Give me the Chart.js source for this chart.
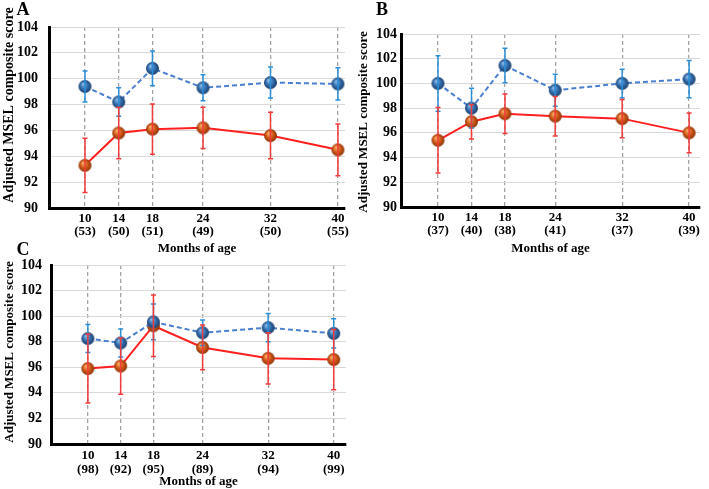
<!DOCTYPE html>
<html>
<head>
<meta charset="utf-8">
<script src="https://cdn.jsdelivr.net/npm/chart.js@4/dist/chart.umd.min.js"></script>
<style>
  html, body { margin: 0; padding: 0; background: #fff; }
  #wrap { position: relative; width: 709px; height: 489px; overflow: hidden; }
  canvas { position: absolute; }
</style>
</head>
<body>
<div id="wrap">
  <canvas id="chartA" width="355" height="256" style="left:0;top:0;width:355px;height:256px"></canvas>
  <canvas id="chartB" width="354" height="256" style="left:355px;top:0;width:354px;height:256px"></canvas>
  <canvas id="chartC" width="355" height="249" style="left:0;top:240px;width:355px;height:249px"></canvas>
</div>
<script>
// months of age on the x axis, with group sizes per panel
const months = [10, 14, 18, 24, 32, 40];
const nA = [53, 50, 51, 49, 50, 55];
const nB = [37, 40, 38, 41, 37, 39];
const nC = [98, 92, 95, 89, 94, 99];
const yTicks = [90, 92, 94, 96, 98, 100, 102, 104];

// blue (dashed) series and its error half-widths
const blueA = [99.4, 98.2, 100.8, 99.3, 99.7, 99.6];
const blueErrA = [1.2, 1.1, 1.35, 1.0, 1.2, 1.25];
const blueB = [100.0, 98.0, 101.45, 99.45, 100.0, 100.35];
const blueErrB = [2.25, 1.6, 1.4, 1.3, 1.15, 1.5];
const blueC = [98.25, 97.9, 99.55, 98.7, 99.1, 98.65];
const blueErrC = [1.1, 1.1, 1.4, 1.0, 1.1, 1.15];

// red (solid) series and its error half-widths
const redA = [93.3, 95.8, 96.1, 96.2, 95.6, 94.5];
const redErrA = [2.1, 2.0, 1.95, 1.6, 1.8, 2.0];
const redB = [95.4, 96.9, 97.55, 97.35, 97.15, 96.0];
const redErrB = [2.65, 1.4, 1.6, 1.6, 1.55, 1.6];
const redC = [95.9, 96.1, 99.25, 97.55, 96.7, 96.6];
const redErrC = [2.7, 2.2, 2.4, 1.75, 2.0, 2.35];

const serif = "'Liberation Serif', 'Times New Roman', serif";

// little shaded ball used as the point style
const makeBall = (light, mid, dark) => {
  const r = 6.5;
  const c = document.createElement("canvas");
  c.width = 15;
  c.height = 15;
  const g = c.getContext("2d");
  const grad = g.createRadialGradient(5.5, 5, 0.5, 7.5, 7.5, r);
  grad.addColorStop(0, light);
  grad.addColorStop(0.5, mid);
  grad.addColorStop(1, dark);
  g.fillStyle = grad;
  g.beginPath();
  g.arc(7.5, 7.5, r, 0, Math.PI * 2);
  g.fill();
  return c;
};
const blueBall = makeBall("#8bb8e6", "#3470b0", "#1c3f6c");
const orangeBall = makeBall("#f6ad6a", "#d45c1a", "#8c3206");

const errorBars = {
  id: "errorBars",
  afterDatasetsDraw(chart) {
    const ctx = chart.ctx;
    const xs = chart.scales.x;
    const ys = chart.scales.y;
    chart.data.datasets.forEach((ds) => {
      ctx.save();
      ctx.strokeStyle = ds.errColor;
      ctx.lineWidth = 1.5;
      ds.data.forEach((p, i) => {
        const x = xs.getPixelForValue(p.x);
        const top = ys.getPixelForValue(p.y + ds.err[i]);
        const bot = ys.getPixelForValue(p.y - ds.err[i]);
        ctx.beginPath();
        ctx.moveTo(x, top);
        ctx.lineTo(x, bot);
        ctx.moveTo(x - 2.5, top);
        ctx.lineTo(x + 2.5, top);
        ctx.moveTo(x - 2.5, bot);
        ctx.lineTo(x + 2.5, bot);
        ctx.stroke();
      });
      ctx.restore();
    });
  },
};

// panel letter and rotated y title
const panelText = {
  id: "panelText",
  afterDraw(chart, args, opts) {
    const ctx = chart.ctx;
    ctx.save();
    ctx.fillStyle = "#000";
    ctx.textAlign = "center";
    ctx.textBaseline = "middle";
    ctx.font = "bold 18px " + serif;
    ctx.fillText(opts.letter, opts.letterX, opts.letterY);
    ctx.translate(opts.titleX, opts.titleY);
    ctx.rotate(-Math.PI / 2);
    ctx.font = "bold " + opts.titleSize + "px " + serif;
    ctx.fillText("Adjusted MSEL composite score", 0, 0);
    ctx.restore();
  },
};

const makeChart = (id, n, blue, blueErr, red, redErr, cfg) => {
  const toPoints = (vals) => vals.map((v, i) => ({ x: months[i], y: v }));
  return new Chart(document.getElementById(id), {
    type: "line",
    data: {
      datasets: [
        {
          data: toPoints(blue),
          err: blueErr,
          errColor: "#2b8fd8",
          borderColor: "#4a7fd0",
          borderWidth: 2,
          borderDash: [5, 3],
          pointStyle: blueBall,
          pointRadius: 7,
          fill: false,
        },
        {
          data: toPoints(red),
          err: redErr,
          errColor: "#f23a3a",
          borderColor: "#ff1f1f",
          borderWidth: 2,
          pointStyle: orangeBall,
          pointRadius: 7,
          fill: false,
        },
      ],
    },
    options: {
      responsive: false,
      animation: false,
      layout: {
        padding: { top: cfg.padTop, right: cfg.padRight, left: 0, bottom: 0 },
      },
      plugins: {
        legend: { display: false },
        tooltip: { enabled: false },
        panelText: cfg.text,
      },
      scales: {
        x: {
          type: "linear",
          min: cfg.xMin,
          max: cfg.xMax,
          afterBuildTicks: (scale) => {
            scale.ticks = months.map((v) => ({ value: v }));
          },
          afterFit: (scale) => {
            scale.height = cfg.xHeight;
          },
          ticks: {
            autoSkip: false,
            maxRotation: 0,
            padding: cfg.xPad,
            color: "#000",
            font: { family: serif, size: 13, weight: "bold", lineHeight: cfg.xLine },
            callback: (v) => [String(v), "(" + n[months.indexOf(v)] + ")"],
          },
          grid: {
            color: "#a3a3a3",
            lineWidth: 1.3,
            drawTicks: false,
          },
          border: { color: "#000", width: 3, dash: [4, 3] },
          title: {
            display: true,
            text: "Months of age",
            color: "#000",
            padding: { top: 0, bottom: 0 },
            font: { family: serif, size: 13, weight: "bold" },
          },
        },
        y: {
          min: 90,
          max: 104,
          afterBuildTicks: (scale) => {
            scale.ticks = yTicks.map((v) => ({ value: v }));
          },
          afterFit: (scale) => {
            scale.width = cfg.yWidth;
          },
          ticks: {
            padding: cfg.yPad,
            color: "#000",
            font: { family: serif, size: 14, weight: "bold" },
          },
          grid: { color: "#d9d9d9", lineWidth: 1, drawTicks: false },
          border: { color: "#000", width: 3 },
        },
      },
    },
    plugins: [errorBars, panelText],
  });
};

makeChart("chartA", nA, blueA, blueErrA, redA, redErrA, {
  text: { letter: "A", letterX: 23, letterY: 10, titleX: 9, titleY: 105, titleSize: 14 },
  xMin: 5.73, xMax: 40.84, padTop: 27, padRight: 10,
  yWidth: 49, xHeight: 48, yPad: 11, xPad: 4, xLine: 1.0,
});
makeChart("chartB", nB, blueB, blueErrB, redB, redErrB, {
  text: { letter: "B", letterX: 27, letterY: 10, titleX: 9, titleY: 122, titleSize: 13 },
  xMin: 5.58, xMax: 41.3, padTop: 34, padRight: 1,
  yWidth: 46, xHeight: 49, yPad: 4, xPad: 4, xLine: 1.0,
});
makeChart("chartC", nC, blueC, blueErrC, redC, redErrC, {
  text: { letter: "C", letterX: 23, letterY: 10, titleX: 9.5, titleY: 112, titleSize: 13 },
  xMin: 5.5, xMax: 41.5, padTop: 25, padRight: 8,
  yWidth: 51, xHeight: 45, yPad: 9, xPad: 5, xLine: 1.08,
});
</script>
</body>
</html>
